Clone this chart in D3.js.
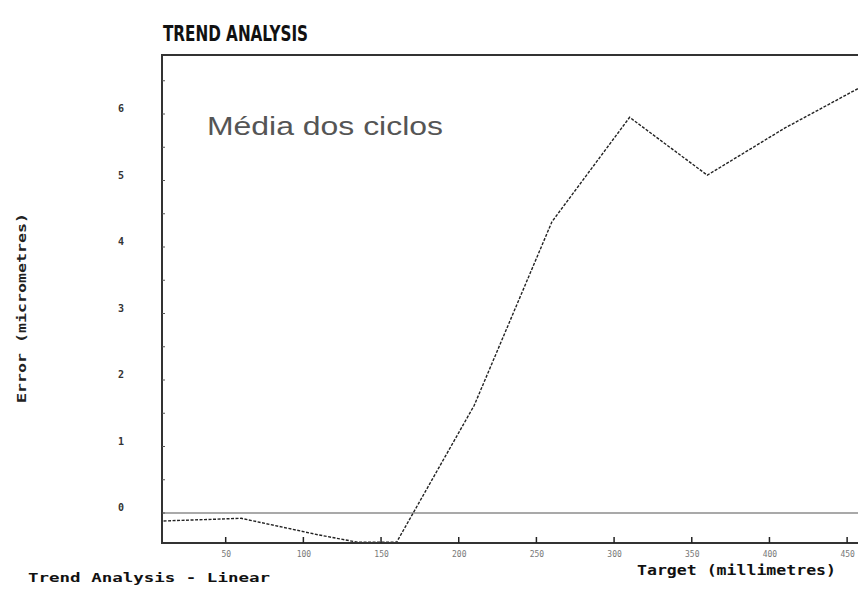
<!DOCTYPE html>
<html><head><meta charset="utf-8">
<script src="https://cdn.jsdelivr.net/npm/d3@7"></script>
<style>body{margin:0;background:#fff}svg{display:block}</style>
</head><body><svg id="c" width="858" height="591"></svg>
<script>
const targets = [10, 60, 110, 135, 160, 210, 260, 310, 360, 410, 460];
const errors  = [-0.12, -0.08, -0.33, -0.44, -0.44, 1.62, 4.38, 5.95, 5.08, 5.79, 6.42];
const xTicks = [50, 100, 150, 200, 250, 300, 350, 400, 450];
const yTicks = [0, 1, 2, 3, 4, 5, 6];
const title = "TREND ANALYSIS";
const note = "Média dos ciclos";
const xTitle = "Target (millimetres)";
const yTitle = "Error (micrometres)";
const footer = "Trend Analysis - Linear";

const svg = d3.select("#c");
const L = 162, R = 858, T = 55, B = 543;
const x = d3.scaleLinear().domain([9, 457]).range([L, R]);
const y = d3.scaleLinear().domain([0, 6]).range([513, 114]);

// clip
svg.append("clipPath").attr("id","clip").append("rect")
  .attr("x", L).attr("y", T).attr("width", R - L).attr("height", B - T);

// zero reference line
svg.append("line").attr("x1", L).attr("x2", R).attr("y1", y(0)).attr("y2", y(0))
  .attr("stroke", "#555").attr("stroke-width", 1.2);

// data line
const line = d3.line().x((d,i)=>x(targets[i])).y(d=>y(d));
svg.append("path").datum(errors).attr("clip-path","url(#clip)")
  .attr("d", line).attr("fill","none").attr("stroke","#222")
  .attr("stroke-width",1.4).attr("stroke-dasharray","3,1.5");

// frame
svg.append("path").attr("d", `M${R},${T}H${L}V${B}H${R}`)
  .attr("fill","none").attr("stroke","#333").attr("stroke-width",2);

// x axis ticks
const xa = svg.append("g").attr("transform", `translate(0,${B})`)
  .call(d3.axisBottom(x).tickValues(xTicks).tickSize(0).tickPadding(8).tickFormat(d3.format("d")));
xa.select(".domain").remove();
xa.selectAll("text").attr("font-family","DejaVu Sans Mono").attr("font-size",8).attr("fill","#777");
svg.append("g").selectAll("line").data(xTicks).join("line")
  .attr("x1", d=>x(d)).attr("x2", d=>x(d)).attr("y1", B).attr("y2", B-6)
  .attr("stroke","#222").attr("stroke-width",1.5);

// y axis
const ya = svg.append("g").attr("transform", `translate(${L},0)`)
  .call(d3.axisLeft(y).tickValues(yTicks).tickSize(0).tickPadding(38).tickFormat(d3.format("d")));
ya.select(".domain").remove();
ya.selectAll("text").attr("font-family","DejaVu Sans Mono").attr("font-weight","bold")
  .attr("font-size",10).attr("fill","#333").attr("dy","-0.25em");
svg.append("g").selectAll("line").data(d3.range(0, 6.6, 0.5)).join("line")
  .attr("x1", L).attr("x2", L+3).attr("y1", d=>y(d)).attr("y2", d=>y(d))
  .attr("stroke","#555").attr("stroke-width",1);

// texts
svg.append("text").attr("x",163).attr("y",41).text(title)
  .attr("font-family","DejaVu Sans Condensed").attr("font-weight","bold")
  .attr("font-size",22).attr("textLength",145).attr("lengthAdjust","spacingAndGlyphs").attr("fill","#111");
svg.append("text").attr("x",207).attr("y",135).text(note)
  .attr("font-family","Liberation Sans").attr("font-size",25).attr("fill","#555")
  .attr("textLength",236).attr("lengthAdjust","spacingAndGlyphs");
svg.append("text").attr("transform","translate(26,308) rotate(-90)").attr("text-anchor","middle")
  .text(yTitle).attr("font-family","DejaVu Sans Mono").attr("font-weight","bold")
  .attr("font-size",12).attr("fill","#222").attr("textLength",190).attr("lengthAdjust","spacingAndGlyphs");
svg.append("text").attr("x",637).attr("y",575).text(xTitle)
  .attr("font-family","DejaVu Sans Mono").attr("font-weight","bold")
  .attr("font-size",14).attr("fill","#111").attr("textLength",199).attr("lengthAdjust","spacingAndGlyphs");
svg.append("text").attr("x",28).attr("y",582).text(footer)
  .attr("font-family","DejaVu Sans Mono").attr("font-weight","bold")
  .attr("font-size",13).attr("fill","#111").attr("textLength",242).attr("lengthAdjust","spacingAndGlyphs");
</script></body></html>
